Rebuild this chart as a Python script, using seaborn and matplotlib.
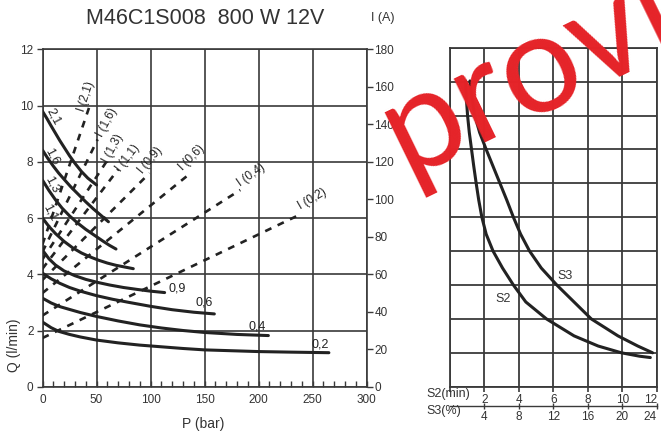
import numpy as np
import pandas as pd
import matplotlib
matplotlib.use("Agg")
import matplotlib.pyplot as plt
import seaborn as sns

# ---------------- data ----------------
# Solid curves: flow Q (l/min) vs pressure P (bar) for each displacement
disp_labels = ["2,1", "1,6", "1,3", "1,1", "0,9", "0,6", "0,4", "0,2"]
P_21 = [0, 4, 8, 12, 16, 20, 25, 30, 36, 42, 50]
Q_21 = [9.8, 9.55, 9.28, 9.02, 8.76, 8.52, 8.22, 7.95, 7.66, 7.42, 7.18]
P_16 = [0, 5, 10, 15, 20, 26, 33, 40, 47, 54, 61]
Q_16 = [8.42, 8.12, 7.85, 7.6, 7.38, 7.12, 6.85, 6.58, 6.33, 6.1, 5.87]
P_13 = [0, 6, 12, 18, 25, 32, 40, 48, 56, 62, 68]
Q_13 = [7.35, 6.98, 6.65, 6.36, 6.08, 5.84, 5.6, 5.39, 5.18, 5.03, 4.9]
P_11 = [0, 6, 12, 20, 28, 36, 44, 52, 60, 68, 76, 84]
Q_11 = [6.0, 5.7, 5.45, 5.17, 4.94, 4.76, 4.62, 4.5, 4.4, 4.32, 4.26, 4.2]
P_09 = [0, 6, 12, 20, 30, 40, 50, 62, 75, 88, 100, 113]
Q_09 = [4.86, 4.55, 4.33, 4.12, 3.95, 3.82, 3.72, 3.62, 3.53, 3.46, 3.4, 3.35]
P_06 = [0, 8, 16, 25, 35, 50, 65, 80, 100, 120, 140, 159]
Q_06 = [4.04, 3.84, 3.68, 3.53, 3.4, 3.24, 3.11, 3.0, 2.86, 2.74, 2.65, 2.59]
P_04 = [0, 8, 16, 25, 35, 50, 70, 90, 110, 130, 150, 180, 209]
Q_04 = [3.15, 2.98, 2.85, 2.75, 2.64, 2.5, 2.34, 2.2, 2.09, 2.0, 1.93, 1.86, 1.82]
P_02 = [0, 8, 15, 25, 35, 50, 70, 90, 110, 130, 150, 175, 200, 230, 265]
Q_02 = [2.3, 2.1, 1.97, 1.86, 1.77, 1.66, 1.56, 1.48, 1.42, 1.36, 1.31, 1.28, 1.25, 1.23, 1.21]

# Dashed lines: current I (A) vs pressure P (bar): start at P=0, end point
I_labels = ["I (2,1)", "I (1,6)", "I (1,3)", "I (1,1)", "I (0,9)", "I (0,6)", "I (0,4)", "I (0,2)"]
I_start = [76, 72, 68, 63, 57, 50, 38, 26]
P_end = [43.4, 51, 59, 70, 99, 137, 183, 235]
I_end = [149.5, 132, 120, 116, 114, 114, 105, 91]

# Right panel: S2 (min) / S3 (%) duty curves
S2_x = [0.90, 0.95, 1.02, 1.12, 1.25, 1.38, 1.52, 1.67, 1.85, 2.1, 2.5, 3.05,
        3.68, 4.4, 5.6, 7.2, 8.6, 9.95, 11.0, 11.63]
S2_y = [9.02, 8.5, 8.0, 7.5, 7.0, 6.5, 6.0, 5.5, 5.0, 4.5, 4.0, 3.5,
        3.0, 2.5, 2.0, 1.5, 1.2, 1.0, 0.9, 0.86]
S3_x = [1.16, 1.28, 1.44, 1.72, 2.1, 2.5, 2.9, 3.3, 3.68, 4.1, 4.62, 5.3,
        6.2, 7.2, 8.2, 9.75, 10.9, 11.76]
S3_y = [9.02, 8.5, 8.0, 7.5, 7.0, 6.5, 6.0, 5.5, 5.0, 4.5, 4.0, 3.5,
        3.0, 2.5, 2.0, 1.5, 1.2, 1.0]

P_ticks = [0, 50, 100, 150, 200, 250, 300]
Q_ticks = [0, 2, 4, 6, 8, 10, 12]
I_ticks = [0, 20, 40, 60, 80, 100, 120, 140, 160, 180]
S2_ticks = [2, 4, 6, 8, 10, 12]
S3_ticks = [4, 8, 12, 16, 20, 24]

# ---------------- style ----------------
sns.set_theme(style="white")
plt.rcParams['font.family'] = ['Liberation Sans', 'DejaVu Sans']
W, H = 661, 436
fig = plt.figure(figsize=(W / 100, H / 100), dpi=100)
fig.patch.set_facecolor("white")

def fx(px):
    return px / W

def fy(py):
    return 1 - py / H

GRID = "#3a3a3a"
LINE = "#222222"
TXT = "#333333"

# ---------------- left chart ----------------
ax = fig.add_axes([fx(42.5), fy(386.7), fx(366.7) - fx(42.5), fy(49.5) - fy(386.7)])
ax.set_xlim(0, 300)
ax.set_ylim(0, 12)
ax.set_facecolor("white")
ax.set_xticks(P_ticks)
ax.set_yticks(Q_ticks)
ax.set_xticks(np.arange(0, 301, 10), minor=True)
ax.grid(True, which="major", color=GRID, linewidth=1.2)
ax.set_axisbelow(True)
for s in ax.spines.values():
    s.set_color(GRID)
    s.set_linewidth(1.2)
    s.set_visible(True)
ax.tick_params(axis="x", which="both", direction="in", length=4, width=1, color=GRID,
               labelsize=8.5, pad=5, labelcolor=TXT, bottom=True)
ax.tick_params(axis="y", which="major", direction="out", length=4.5, width=1, color=GRID,
               labelsize=8.5, pad=2, labelcolor=TXT, left=True)

curves = [(P_21, Q_21), (P_16, Q_16), (P_13, Q_13), (P_11, Q_11),
          (P_09, Q_09), (P_06, Q_06), (P_04, Q_04), (P_02, Q_02)]
for (p, q), lab in zip(curves, disp_labels):
    df = pd.DataFrame({"P": p, "Q": q})
    sns.lineplot(data=df, x="P", y="Q", ax=ax, color=LINE, linewidth=2.2,
                 estimator=None, sort=False, legend=False, zorder=4)
ax.set_xlabel("")
ax.set_ylabel("")

# Dashed current lines on twin axis
ax2 = ax.twinx()
ax2.set_ylim(0, 180)
ax2.set_yticks(I_ticks)
ax2.grid(False)
for s in ax2.spines.values():
    s.set_visible(False)
ax2.tick_params(axis="y", direction="out", length=4.5, width=1, color=GRID,
                labelsize=8.5, pad=1, labelcolor=TXT, right=True)
for i0, pe, ie, lab in zip(I_start, P_end, I_end, I_labels):
    df = pd.DataFrame({"P": [0, pe], "I": [i0, ie]})
    sns.lineplot(data=df, x="P", y="I", ax=ax2, color=LINE, linewidth=1.9,
                 estimator=None, legend=False, zorder=3)
    ax2.lines[-1].set_dashes([2.6, 2.6])
ax2.set_xlabel("")
ax2.set_ylabel("")
ax.set_xlabel("")
ax.set_ylabel("")

# curve labels (start labels rotated, end labels horizontal)
lab_kw = dict(fontsize=9, color=LINE, zorder=6)
ax.text(10.5, 9.6, "2,1", rotation=-62, ha="center", va="center", **lab_kw)
ax.text(8.5, 8.2, "1,6", rotation=-62, ha="center", va="center", **lab_kw)
ax.text(9, 7.2, "1,3", rotation=-62, ha="center", va="center", **lab_kw)
ax.text(7, 6.2, "1,1", rotation=-62, ha="center", va="center", **lab_kw)
ax.text(117, 3.48, "0,9", ha="left", va="center", **lab_kw)
ax.text(142, 3.0, "0,6", ha="left", va="center", **lab_kw)
ax.text(191, 2.15, "0,4", ha="left", va="center", **lab_kw)
ax.text(249, 1.49, "0,2", ha="left", va="center", **lab_kw)

# dashed line labels
dl_pos = [(40, 155, 72), (60, 141, 62), (65, 127, 62), (79, 122, 52),
          (100, 121, 50), (138, 122, 45), (193, 113, 35), (250, 100, 30)]
for (px_, iy, rot), lab in zip(dl_pos, I_labels):
    ax2.text(px_, iy, lab, rotation=rot, ha="center", va="center", fontsize=8.5,
             color=LINE, zorder=6)

fig.text(fx(205), fy(18), "M46C1S008  800 W 12V", ha="center", va="center",
         fontsize=15.5, color=TXT)
fig.text(fx(383), fy(18), "I (A)", ha="center", va="center", fontsize=9, color=TXT)
fig.text(fx(203), fy(424), "P (bar)", ha="center", va="center", fontsize=10, color=TXT)
fig.text(fx(14), fy(345), "Q (l/min)", ha="center", va="center", rotation=90,
         fontsize=10, color=TXT)

# ---------------- right chart ----------------
axr = fig.add_axes([fx(450), fy(386.7), fx(656.7) - fx(450), fy(47.7) - fy(386.7)])
axr.set_xlim(0, 12)
axr.set_ylim(0, 10)
axr.set_facecolor("white")
axr.set_xticks([0] + S2_ticks)
axr.set_xticklabels([""] + [str(v) for v in S2_ticks])
axr.set_yticks(np.arange(0, 11, 1))
axr.set_yticklabels([])
axr.grid(True, which="major", color=GRID, linewidth=1.3)
axr.set_axisbelow(True)
for s in axr.spines.values():
    s.set_color(GRID)
    s.set_linewidth(1.3)
    s.set_visible(True)
axr.tick_params(axis="x", direction="out", length=3.5, width=1.2, color=GRID,
                labelsize=8.5, pad=2, labelcolor=TXT, bottom=True)
axr.tick_params(axis="y", length=0)

df2 = pd.DataFrame({"x": S2_x, "y": S2_y})
df3 = pd.DataFrame({"x": S3_x, "y": S3_y})
sns.lineplot(data=df2, x="x", y="y", ax=axr, color=LINE, linewidth=2.2,
             estimator=None, sort=False, legend=False, zorder=4)
sns.lineplot(data=df3, x="x", y="y", ax=axr, color=LINE, linewidth=2.2,
             estimator=None, sort=False, legend=False, zorder=4)
axr.set_xlabel("")
axr.set_ylabel("")
axr.text(3.1, 2.58, "S2", ha="center", va="center", fontsize=9, color=TXT)
axr.text(6.68, 3.26, "S3", ha="center", va="center", fontsize=9, color=TXT)

sec = axr.secondary_xaxis(-0.057, functions=(lambda x: 2 * x, lambda x: x / 2))
sec.set_xticks(S3_ticks)
sec.spines["bottom"].set_color(GRID)
sec.spines["bottom"].set_linewidth(1.0)
sec.tick_params(axis="x", direction="inout", length=5, width=1, color=GRID,
                labelsize=8.5, pad=1, labelcolor=TXT)

fig.text(fx(426), fy(394), "S2(min)", ha="left", va="center", fontsize=9, color=TXT)
fig.text(fx(426), fy(411), "S3(%)", ha="left", va="center", fontsize=9, color=TXT)

# watermark
fig.text(fx(406), fy(176), "provisorio", rotation=26, rotation_mode="anchor",
         ha="left", va="baseline", fontsize=100, color="#E52328",
         family=["Lato", "Open Sans", "DejaVu Sans"], zorder=10)

fig.canvas.draw()
# keep right-most tick labels inside the figure
axr.get_xticklabels()[-1].set_horizontalalignment("right")
sec.get_xticklabels()[-1].set_horizontalalignment("right")

fig.savefig("out.png", dpi=100, facecolor="white")
